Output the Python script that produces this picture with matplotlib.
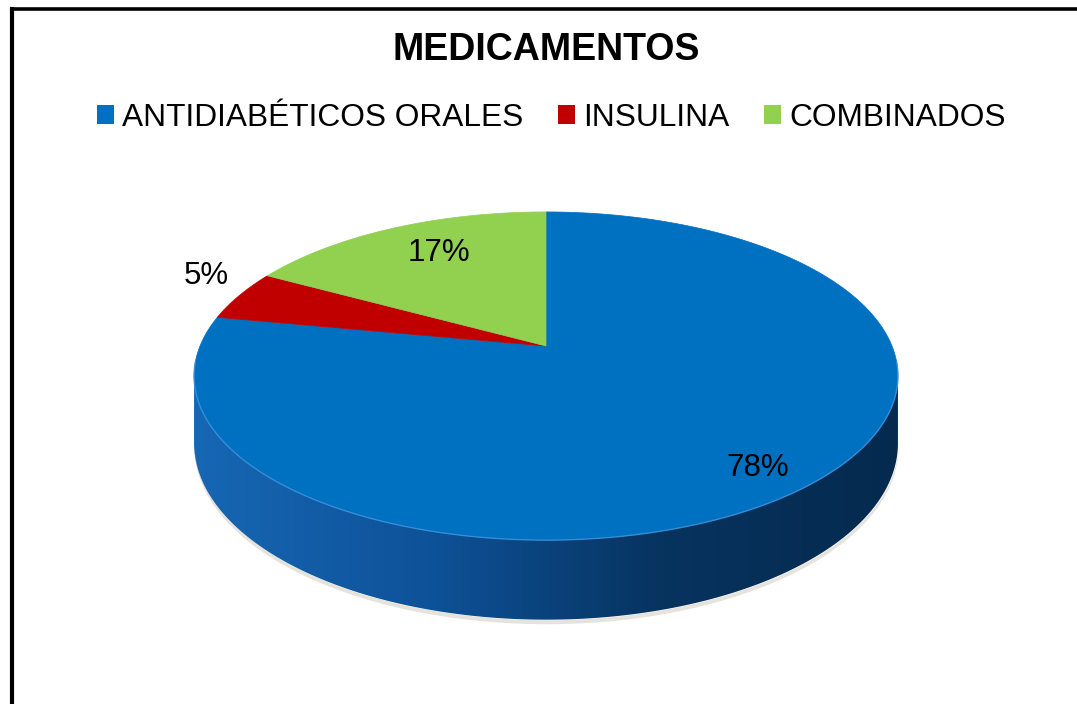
import numpy as np
import matplotlib.pyplot as plt
from matplotlib.patches import Polygon, Rectangle
from matplotlib.colors import LinearSegmentedColormap

# Chart data
categories = ["ANTIDIABÉTICOS ORALES", "INSULINA", "COMBINADOS"]
shares = [78, 5, 17]
pct_labels = ["78%", "5%", "17%"]
colors = ["#0070C0", "#C00000", "#92D050"]

plt.rcParams['font.family'] = ['Liberation Sans', 'DejaVu Sans']

# 3D pie geometry (pixels) - perspective view of a flat disc
CX, CY = 546, 346      # apex of the slices
A, B = 346, 158.6      # horizontal / vertical scale
K = 0.183              # perspective strength
DEPTH = 65             # thickness of the disc

# label placement: angle nudge (deg) and radius per slice
label_nudge = [-1, -4.3, -2.6]
label_radius = [0.86, 1.17, 0.74]


def project(phi, z=0.0, r=1.0):
    x = r * np.cos(phi)
    y = r * np.sin(phi)
    den = 1 + K * y
    return CX + A * x / den, CY - B * y / den + DEPTH * z / den


fig = plt.figure(figsize=(10.77, 7.04), dpi=100)
ax = fig.add_axes([0, 0, 1, 1])
ax.set_xlim(0, 1077)
ax.set_ylim(704, 0)
ax.axis('off')

# side of the disc: visible band between the left and right extremes,
# filled with a left-to-right gradient
side_cmap = LinearSegmentedColormap.from_list(
    'side', ['#1767B4', '#0E5299', '#07335F', '#052A4E'])
edge = np.arcsin(K)
phis = np.linspace(np.pi + edge, 2 * np.pi - edge, 400)
tx, ty = project(phis)
bx, by = project(phis, 1.0)

# soft shadow just under the bottom edge
ax.fill_between(bx, by, by + 4, color='#b8ad9c', alpha=0.35, lw=0)

side = Polygon(np.column_stack([np.r_[tx, bx[::-1]], np.r_[ty, by[::-1]]]),
               facecolor='none', edgecolor='none')
ax.add_patch(side)
x0, x1 = tx.min() - 2, tx.max() + 2
grad = np.linspace(0, 1, 256).reshape(1, -1)
img = ax.imshow(grad, cmap=side_cmap, aspect='auto', interpolation='bilinear',
                extent=[x0, x1, by.max() + 2, ty.min() - 2])
img.set_clip_path(side)
ax.set_xlim(0, 1077)
ax.set_ylim(704, 0)

# top face slices, clockwise from 12 o'clock
total = sum(shares)
start = np.pi / 2
mids = []
for share, color in zip(shares, colors):
    sweep = 2 * np.pi * share / total
    ph = np.linspace(start, start - sweep, 300)
    xs, ys = project(ph)
    ax.add_patch(Polygon(np.column_stack([np.r_[CX, xs], np.r_[CY, ys]]),
                         facecolor=color, edgecolor=color, lw=0.5, zorder=3))
    mids.append(start - sweep / 2)
    start -= sweep

# light rim on the front edge
rim = np.linspace(np.pi + 0.1, 2 * np.pi - 0.1, 200)
rx, ry = project(rim)
ax.plot(rx, ry, color='#3F93DD', lw=1.0, alpha=0.8, zorder=4)

# percentage labels
for mid, nudge, r, lab in zip(mids, label_nudge, label_radius, pct_labels):
    lx, ly = project(mid + np.radians(nudge), r=r)
    ax.text(lx, ly, lab, ha='center', va='center', fontsize=22.5,
            color='black', zorder=5)

# title and legend
ax.text(546, 50, "MEDICAMENTOS", ha='center', va='center',
        fontsize=27, fontweight='bold')
handles = [Rectangle((0, 0), 1, 1, facecolor=c, edgecolor='none') for c in colors]
ax.legend(handles, categories, loc='center',
          bbox_to_anchor=(551.5 / 1077, 1 - 118 / 704), bbox_transform=fig.transFigure,
          ncol=3, frameon=False, fontsize=22.8, handlelength=0.54, handleheight=0.54,
          handletextpad=0.25, columnspacing=1.1, borderpad=0, borderaxespad=0)

# frame (left and top edges visible)
ax.plot([12, 12], [704, 9], color='black', lw=3.0, clip_on=False,
        solid_capstyle='projecting')
ax.plot([12, 1077], [9, 9], color='black', lw=2.6, clip_on=False,
        solid_capstyle='projecting')

fig.savefig("out.png", dpi=100)
